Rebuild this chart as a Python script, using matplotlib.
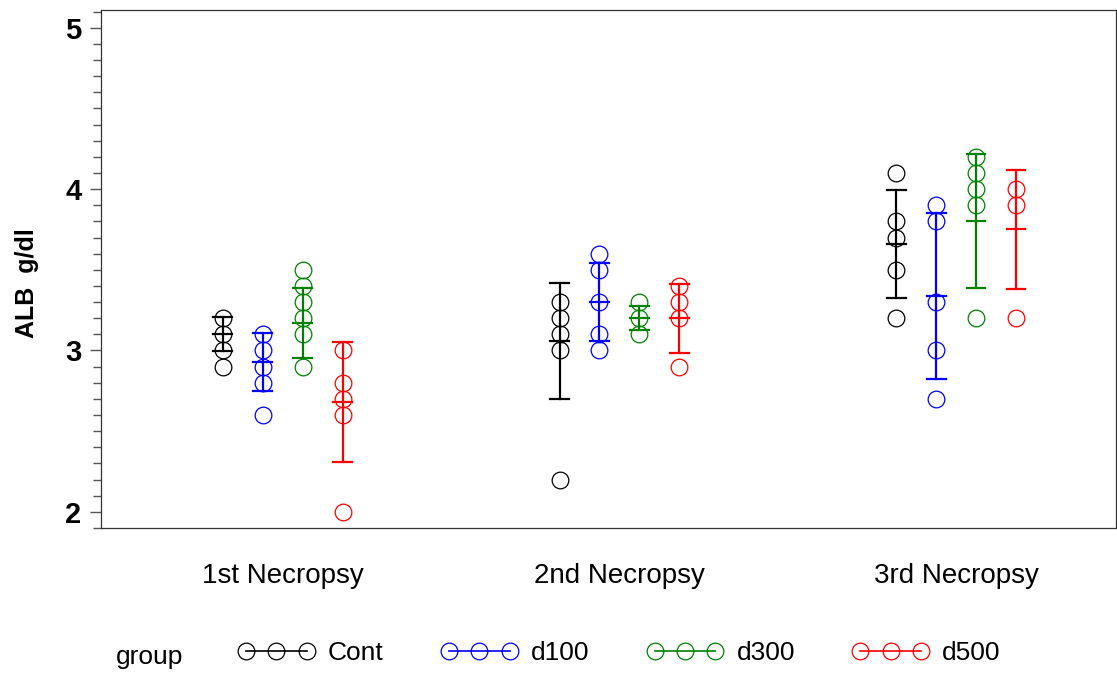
import matplotlib
matplotlib.use("Agg")
import matplotlib.pyplot as plt
from matplotlib.lines import Line2D
from matplotlib.ticker import MultipleLocator

plt.rcParams['font.family'] = ['Liberation Sans', 'DejaVu Sans']

# Necropsy time points and dose groups
necropsies = ["1st Necropsy", "2nd Necropsy", "3rd Necropsy"]
groups = ["Cont", "d100", "d300", "d500"]
colors = ["black", "blue", "green", "red"]

# Individual ALB values (g/dl), per group, per necropsy
cont_vals = [[3.2, 3.1, 3.0, 2.9],
             [3.3, 3.2, 3.1, 3.0, 2.2],
             [4.1, 3.8, 3.7, 3.5, 3.2]]
d100_vals = [[3.1, 3.0, 2.9, 2.8, 2.6],
             [3.6, 3.5, 3.3, 3.1, 3.0],
             [3.9, 3.8, 3.3, 3.0, 2.7]]
d300_vals = [[3.5, 3.4, 3.3, 3.2, 3.1, 2.9],
             [3.3, 3.2, 3.1],
             [4.2, 4.1, 4.0, 3.9, 3.2]]
d500_vals = [[3.0, 2.8, 2.7, 2.6, 2.0],
             [3.4, 3.3, 3.2, 2.9],
             [4.0, 3.9, 3.2]]

# Group means and standard deviations
cont_mean = [3.10, 3.06, 3.66]
cont_sd = [0.105, 0.36, 0.335]
d100_mean = [2.93, 3.30, 3.34]
d100_sd = [0.18, 0.24, 0.515]
d300_mean = [3.17, 3.20, 3.80]
d300_sd = [0.215, 0.075, 0.415]
d500_mean = [2.68, 3.20, 3.75]
d500_sd = [0.37, 0.215, 0.37]

all_vals = [cont_vals, d100_vals, d300_vals, d500_vals]
all_mean = [cont_mean, d100_mean, d300_mean, d500_mean]
all_sd = [cont_sd, d100_sd, d300_sd, d500_sd]

fig = plt.figure(figsize=(11.17, 6.75), dpi=100)
ax = fig.add_axes([101 / 1117, 1 - 528 / 675, 1 - 101 / 1117 - 1 / 1117, (528 - 10) / 675])

offset = 0.1187
cap_half = 0.028
for g, (vals, means, sds, col) in enumerate(zip(all_vals, all_mean, all_sd, colors)):
    dx = (g - 1.5) * offset
    for i in range(len(necropsies)):
        x = i + dx
        ax.plot([x] * len(vals[i]), vals[i], linestyle='none', marker='o',
                markersize=12, markerfacecolor='none', markeredgecolor=col,
                markeredgewidth=0.9, zorder=3)
        lo = means[i] - sds[i]
        hi = means[i] + sds[i]
        ax.plot([x, x], [lo, hi], color=col, lw=1.6, zorder=4)
        for yv in (lo, means[i], hi):
            ax.plot([x - cap_half, x + cap_half], [yv, yv], color=col, lw=1.6, zorder=4)

ax.set_xlim(-0.540, 2.475)
ax.set_ylim(1.90, 5.11)
ax.set_xticks(range(len(necropsies)))
ax.set_xticklabels(necropsies, fontsize=20)
ax.tick_params(axis='x', length=0, pad=25)
ax.set_yticks([2, 3, 4, 5])
ax.yaxis.set_minor_locator(MultipleLocator(0.1))
ax.tick_params(axis='y', which='major', length=8, width=1, color='#555555',
               labelsize=21, pad=6)
ax.tick_params(axis='y', which='minor', length=6, width=1, color='#555555')
for lab in ax.get_yticklabels():
    lab.set_fontweight('bold')
ax.set_ylabel("ALB  g/dl", fontsize=18, fontweight='bold')
ax.yaxis.set_label_coords(-0.061, 0.473)
for sp in ax.spines.values():
    sp.set_linewidth(0.9)
    sp.set_color('#333333')

# Legend
fig.text(150 / 1117, 1 - 657 / 675, "group", fontsize=19, ha='center', va='center')
handles = [Line2D([0], [0], color=c, lw=1.2, marker='o', markersize=12,
                  markerfacecolor='none', markeredgecolor=c, markeredgewidth=0.9)
           for c in colors]
fig.legend(handles, groups, ncol=4, loc='center left', numpoints=3,
           bbox_to_anchor=(238 / 1117, 1 - 653 / 675), frameon=False,
           fontsize=19, handlelength=2.9, handletextpad=0.5, columnspacing=2.18,
           borderaxespad=0, borderpad=0)

fig.savefig("out.png", dpi=100)
